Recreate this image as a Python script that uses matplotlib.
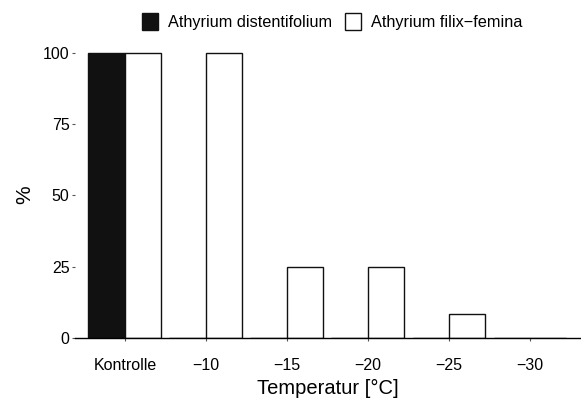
import numpy as np
import matplotlib.pyplot as plt

plt.rcParams['font.family'] = ['Liberation Sans', 'DejaVu Sans']

# data
kategorien = ['Kontrolle', '\u221210', '\u221215', '\u221220', '\u221225', '\u221230']
distentifolium = [100, 0, 0, 0, 0, 0]
filix_femina = [100, 100, 25, 25, 8.3, 0]

fig = plt.figure(figsize=(5.81, 4.05), dpi=100)
ax = fig.add_axes([0.129, 0.165, 0.871, 0.723])

x = np.arange(len(kategorien))
w = 0.45
ax.bar(x - w/2, distentifolium, w, color='#111111', edgecolor='#111111', linewidth=1,
       label='Athyrium distentifolium')
ax.bar(x + w/2, filix_femina, w, color='white', edgecolor='#111111', linewidth=1,
       label='Athyrium filix\u2212femina')

ax.set_xlim(-0.617, 5.63)
ax.set_ylim(0, 102.6)
ax.set_xticks(x)
ax.set_xticklabels(kategorien, fontsize=11.5)
ax.set_yticks([0, 25, 50, 75, 100])
ax.set_yticklabels(['0', '25', '50', '75', '100'], fontsize=11.5)
ax.tick_params(axis='both', length=2, width=0.8, color='#555555', pad=2)
ax.tick_params(axis='x', pad=12)

for s in ['top', 'right', 'left']:
    ax.spines[s].set_visible(False)
ax.spines['bottom'].set_linewidth(1)

ax.set_xlabel('Temperatur [\u00b0C]', fontsize=14.5)
ax.xaxis.set_label_coords(0.50, -0.14)
ax.set_ylabel('%', fontsize=15)
ax.yaxis.set_label_coords(-0.08, 0.49)

fig.legend(loc='upper center', bbox_to_anchor=(0.572, 1.005), ncol=2, frameon=False,
           fontsize=11.7, handlelength=1.0, handleheight=1.25, handletextpad=0.6,
           columnspacing=0.8)

fig.savefig('out.png', dpi=100)
